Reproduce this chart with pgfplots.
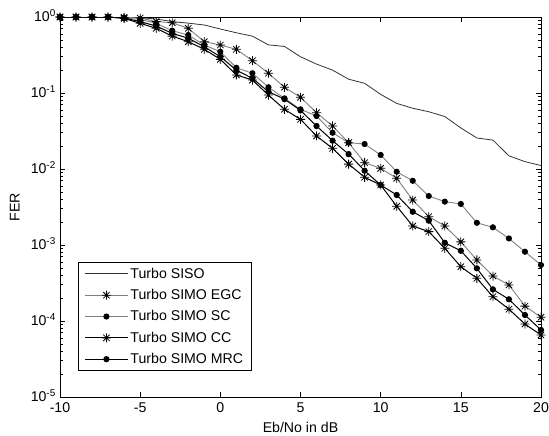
\documentclass[border=0pt]{standalone}
\usepackage{fontspec}
\setmainfont{Liberation Sans}
\usepackage{pgfplots}
\usepackage{pgfplotstable}
\pgfplotsset{compat=1.18}
\newcommand\ff{\fontsize{14.2}{16.5}\selectfont}
\pgfdeclareplotmark{mstar}{%
 \pgfpathmoveto{\pgfqpoint{-\pgfplotmarksize}{0pt}}\pgfpathlineto{\pgfqpoint{\pgfplotmarksize}{0pt}}%
 \pgfpathmoveto{\pgfqpoint{0pt}{-\pgfplotmarksize}}\pgfpathlineto{\pgfqpoint{0pt}{\pgfplotmarksize}}%
 \pgfpathmoveto{\pgfqpoint{-0.7071\pgfplotmarksize}{-0.7071\pgfplotmarksize}}\pgfpathlineto{\pgfqpoint{0.7071\pgfplotmarksize}{0.7071\pgfplotmarksize}}%
 \pgfpathmoveto{\pgfqpoint{-0.7071\pgfplotmarksize}{0.7071\pgfplotmarksize}}\pgfpathlineto{\pgfqpoint{0.7071\pgfplotmarksize}{-0.7071\pgfplotmarksize}}%
 \pgfusepathqstroke}
\pgfplotstableread{
x siso egc sc cc mrc
-10 1 1 1 1 1
-9 1 1 1 1 1
-8 1 1 1 1 1
-7 1 1 1 1 1
-6 0.995 0.99 0.97 0.96 0.97
-5 0.98 0.97 0.933 0.826 0.87
-4 0.94 0.87 0.826 0.71 0.76
-3 0.87 0.84 0.66 0.56 0.61
-2 0.83 0.71 0.58 0.473 0.525
-1 0.785 0.473 0.428 0.376 0.406
0 0.695 0.428 0.349 0.277 0.30
1 0.62 0.376 0.215 0.173 0.20
2 0.56 0.266 0.182 0.148 0.156
3 0.43 0.182 0.119 0.094 0.104
4 0.41 0.119 0.085 0.061 0.083
5 0.30 0.0878 0.061 0.045 0.059
6 0.24 0.0551 0.0498 0.0272 0.0368
7 0.20 0.0368 0.030 0.0187 0.0236
8 0.152 0.0222 0.0222 0.0116 0.0157
9 0.134 0.0121 0.0213 0.00778 0.0095
10 0.096 0.0102 0.0153 0.00616 0.00616
11 0.073 0.00755 0.0092 0.00323 0.00455
12 0.063 0.00391 0.0070 0.00178 0.00274
13 0.0567 0.00236 0.00441 0.0015 0.00209
14 0.049 0.00178 0.00372 0.000905 0.00107
15 0.0347 0.0011 0.00347 0.000518 0.00084
16 0.0256 0.000635 0.00196 0.000365 0.000493
17 0.024 0.000391 0.00171 0.000209 0.000261
18 0.0149 0.000298 0.00122 0.000143 0.000193
19 0.0125 0.000157 0.000816 0.0000912 0.00012
20 0.0111 0.000112 0.000546 0.0000654 0.0000762
}\data
\begin{document}
\begin{tikzpicture}
\useasboundingbox (-60bp,-39bp) rectangle (489bp,397bp);
\begin{axis}[
  at={(0,0)}, anchor=south west,
  scale only axis, width=481bp, height=380bp,
  ymode=log, log basis y=10,
  xmin=-10, xmax=20, ymin=1e-5, ymax=1,
  xtick={-10,-5,0,5,10,15,20},
  xticklabels={-10,-5,0,5,10,15,20},
  yticklabel={10\textsuperscript{\pgfmathparse{int(round(\tick))}\pgfmathresult}},
  tick label style={font=\ff, inner sep=2.5bp},
  xticklabel style={yshift=-3bp},
  yticklabel style={xshift=-1.5bp, yshift=1bp},
  label style={font=\ff},
  xlabel={Eb/No in dB},
  ylabel={FER},
  xlabel style={at={(axis description cs:0.5,-0.079)}, anchor=center},
  ylabel style={at={(axis description cs:-0.094,0.5)}, anchor=center},
  axis line style={line width=0.8bp},
  every tick/.style={black, line width=0.6bp},
  major tick length=5bp, minor tick length=3bp,
  legend cell align=left,
  legend style={at={(0.0374,0.355)}, anchor=north west, font=\ff,
    draw=black, line width=0.8bp, inner xsep=6bp, inner ysep=3.5bp,
    row sep=5.6bp, /tikz/every even column/.append style={column sep=3bp}},
  legend image code/.code={\draw[mark repeat=2,mark phase=2,#1] plot coordinates {(0cm,0cm) (0.76cm,0cm) (1.52cm,0cm)};},
]
\addplot[black!80, line width=0.8bp] table[x=x,y=siso]{\data};
\addlegendentry{Turbo SISO}
\addplot[gray, line width=0.9bp, mark=mstar, mark size=4.5bp, mark options={black, line width=0.8bp}] table[x=x,y=egc]{\data};
\addlegendentry{Turbo SIMO EGC}
\addplot[gray, line width=0.9bp, mark=*, mark size=2.6bp, mark options={black, fill=black}] table[x=x,y=sc]{\data};
\addlegendentry{Turbo SIMO SC}
\addplot[black, line width=1bp, mark=mstar, mark size=4.5bp, mark options={black, line width=0.8bp}] table[x=x,y=cc]{\data};
\addlegendentry{Turbo SIMO CC}
\addplot[black, line width=1bp, mark=*, mark size=2.6bp, mark options={black, fill=black}] table[x=x,y=mrc]{\data};
\addlegendentry{Turbo SIMO MRC}
\end{axis}
\end{tikzpicture}
\end{document}
